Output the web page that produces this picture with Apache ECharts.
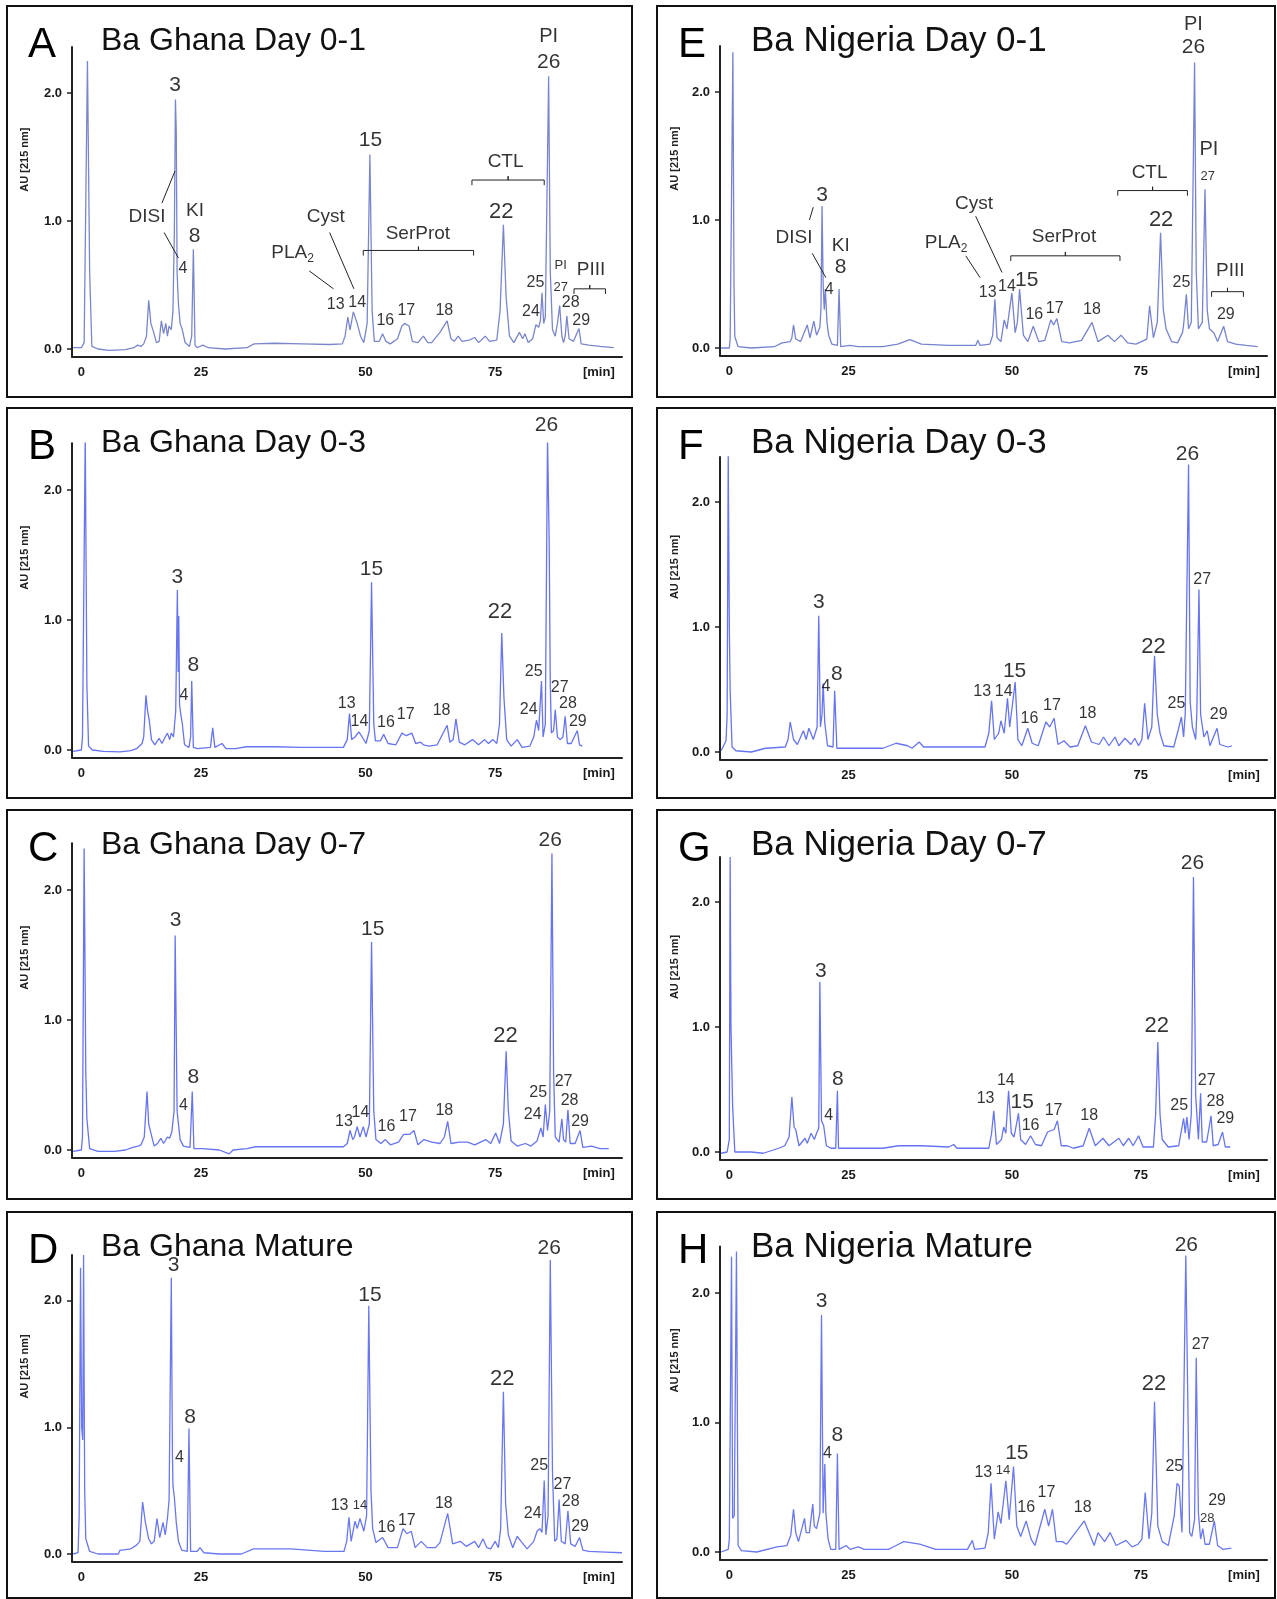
<!DOCTYPE html>
<html>
<head>
<meta charset="utf-8">
<title>Ba venom RP-HPLC profiles</title>
<script src="https://cdn.jsdelivr.net/npm/echarts@6/dist/echarts.min.js"></script>
<style>
html, body { margin: 0; padding: 0; background: #fff; }
#chart { width: 1277px; height: 1599px; }
</style>
</head>
<body>
<div id="chart"></div>
<script>
// tick labels of the time axis, at the places where they are drawn (axis units)
const xTickPos = [0, 21.7, 51.5, 75, 93.8]
const xTickText = ['0', '25', '50', '75', '[min]']
const yTicks = [0, 1, 2]

const letters = ['A', 'B', 'C', 'D', 'E', 'F', 'G', 'H']
const titles = [
  'Ba Ghana Day 0-1', 'Ba Ghana Day 0-3', 'Ba Ghana Day 0-7', 'Ba Ghana Mature',
  'Ba Nigeria Day 0-1', 'Ba Nigeria Day 0-3', 'Ba Nigeria Day 0-7', 'Ba Nigeria Mature'
]

// chromatograms: [time, AU 215 nm]
const traceA = [[-1.5,0.01],[0,0.01],[0.5,0.05],[1.1,2.25],[1.5,0.6],[1.9,0.02],[3,0.0],[5,-0.01],[8,-0.005],[9.5,0.01],[10.2,0.03],[10.8,0.02],[11.3,0.04],[11.8,0.1],[12.2,0.38],[12.6,0.2],[13.1,0.13],[13.6,0.05],[14.1,0.06],[14.5,0.22],[14.9,0.12],[15.3,0.2],[15.6,0.1],[15.9,0.18],[16.3,0.15],[16.6,0.3],[16.85,0.9],[17.05,1.95],[17.2,1.7],[17.35,0.6],[17.6,0.35],[17.9,0.2],[18.3,0.15],[18.8,0.05],[19.6,0.02],[20.0,0.1],[20.3,0.78],[20.6,0.03],[21,0.01],[22,0.03],[23,0.01],[26,0.0],[30,0.01],[31.3,0.04],[35,0.045],[40,0.04],[45,0.035],[47.3,0.04],[47.8,0.1],[48.3,0.25],[48.7,0.15],[49.3,0.29],[50.0,0.2],[50.6,0.1],[51.2,0.05],[51.8,0.2],[52.3,1.52],[52.7,0.3],[53.1,0.06],[54,0.06],[54.6,0.12],[55.2,0.06],[56,0.04],[57.3,0.08],[58.1,0.18],[58.6,0.2],[59.4,0.18],[60,0.06],[61,0.05],[62,0.1],[62.8,0.05],[63.5,0.05],[65,0.13],[66.3,0.22],[67,0.08],[67.6,0.06],[68.3,0.1],[69,0.06],[70.3,0.07],[71.3,0.09],[72,0.05],[73.2,0.1],[74,0.06],[75.3,0.07],[75.9,0.3],[76.5,0.97],[77.0,0.4],[77.6,0.1],[78.4,0.05],[79.4,0.13],[80.0,0.08],[80.4,0.12],[81.0,0.05],[81.8,0.08],[82.4,0.19],[82.9,0.17],[83.2,0.22],[83.5,0.44],[83.8,0.2],[84.1,0.25],[84.7,2.13],[85.0,0.6],[85.4,0.15],[85.9,0.1],[86.3,0.2],[86.7,0.34],[87.1,0.1],[87.4,0.05],[87.7,0.1],[88.0,0.26],[88.4,0.08],[89.2,0.06],[90.2,0.16],[90.6,0.04],[92,0.03],[94,0.02],[96.5,0.01]]
const traceB = [[-1.5,-0.01],[0,0.0],[0.2,0.1],[0.7,2.42],[1.0,0.5],[1.3,0.03],[2,0.0],[4,-0.01],[7,-0.015],[9,-0.005],[10,0.01],[11.0,0.05],[11.3,0.1],[11.7,0.42],[12.0,0.3],[12.3,0.23],[12.7,0.08],[13.3,0.04],[14.1,0.09],[14.6,0.05],[15.2,0.1],[15.6,0.13],[16.0,0.08],[16.3,0.13],[16.7,0.1],[17.1,0.3],[17.4,1.23],[17.55,0.6],[17.65,1.03],[17.8,0.35],[18.0,0.28],[18.3,0.2],[18.7,0.04],[19.5,0.02],[19.8,0.1],[20.0,0.53],[20.3,0.02],[21,0.01],[23.4,0.02],[23.8,0.17],[24.2,0.02],[25.5,0.05],[26.2,0.01],[28,0.01],[29.9,0.025],[35,0.025],[40,0.02],[47.5,0.02],[48.2,0.08],[48.6,0.28],[49.0,0.08],[49.6,0.1],[50.3,0.14],[50.9,0.1],[51.6,0.05],[52.2,0.15],[52.6,1.29],[53.0,0.2],[53.3,0.07],[54.2,0.07],[54.8,0.12],[55.6,0.05],[57,0.04],[58.1,0.13],[58.9,0.11],[59.9,0.13],[60.6,0.05],[61.5,0.06],[62,0.04],[63,0.03],[64.5,0.04],[65.1,0.09],[66.3,0.19],[66.8,0.06],[67.4,0.08],[67.9,0.24],[68.5,0.06],[69.5,0.04],[70.9,0.08],[72,0.04],[73.1,0.08],[73.8,0.05],[74.6,0.08],[75.3,0.05],[75.8,0.2],[76.2,0.9],[76.6,0.4],[77.1,0.08],[77.9,0.03],[79.0,0.08],[79.9,0.02],[81.3,0.03],[82.0,0.1],[82.5,0.23],[82.9,0.15],[83.4,0.53],[83.7,0.1],[84.1,0.2],[84.5,2.4],[84.8,1.6],[85.0,0.5],[85.2,0.13],[85.6,0.15],[85.9,0.31],[86.3,0.1],[86.8,0.08],[87.3,0.1],[87.7,0.26],[88.1,0.05],[88.8,0.05],[89.9,0.15],[90.3,0.04],[90.8,0.03]]
const traceC = [[-1.5,-0.01],[0,0.0],[0.2,0.1],[0.5,2.32],[0.8,0.6],[1.0,0.24],[1.5,0.01],[3,-0.01],[6,-0.01],[8,0.0],[9.3,0.02],[10.3,0.03],[10.8,0.04],[11.4,0.1],[11.9,0.45],[12.2,0.2],[12.6,0.13],[13.2,0.03],[13.8,0.05],[14.4,0.09],[14.9,0.05],[15.6,0.1],[16.0,0.09],[16.4,0.14],[16.8,0.3],[17.0,1.65],[17.2,0.9],[17.35,0.3],[17.5,0.24],[17.9,0.08],[18.5,0.03],[19.7,0.02],[20.1,0.45],[20.4,0.01],[22,0.01],[25,0.0],[26.8,-0.03],[27.5,0.0],[30,0.01],[31.6,0.025],[40,0.025],[47.5,0.025],[48.2,0.05],[48.7,0.15],[49.2,0.08],[49.5,0.1],[50.0,0.18],[50.5,0.1],[51.1,0.18],[51.6,0.1],[52.2,0.2],[52.6,1.6],[53.0,0.3],[53.4,0.08],[54.3,0.05],[55.1,0.08],[56,0.04],[57.5,0.06],[58.4,0.12],[59.5,0.12],[60.3,0.15],[61.0,0.04],[62.1,0.08],[63.5,0.06],[65,0.05],[65.8,0.1],[66.4,0.22],[67.0,0.05],[68.5,0.06],[70,0.06],[71.3,0.04],[73.3,0.08],[74.2,0.05],[75.1,0.13],[75.8,0.05],[76.5,0.2],[77.0,0.76],[77.4,0.3],[77.9,0.07],[79,0.03],[80.5,0.05],[81.5,0.03],[82.6,0.07],[83.3,0.17],[83.7,0.1],[84.1,0.35],[84.5,0.15],[84.9,0.3],[85.3,2.28],[85.6,0.6],[85.9,0.1],[86.6,0.06],[87.1,0.24],[87.4,0.08],[87.8,0.06],[88.2,0.31],[88.6,0.05],[89.5,0.05],[90.4,0.15],[90.9,0.02],[92.5,0.03],[94,0.01],[95.6,0.01]]
const traceD = [[-1.5,0.0],[-0.6,0.01],[-0.4,0.3],[-0.15,2.26],[0.05,1.0],[0.25,0.9],[0.4,2.36],[0.6,0.5],[0.8,0.12],[1.5,0.02],[3,0.0],[5,0.0],[6.7,0.0],[7.0,0.03],[7.4,0.03],[8.9,0.04],[10.0,0.07],[10.6,0.1],[11.1,0.41],[11.6,0.25],[12.2,0.12],[12.7,0.08],[13.2,0.1],[13.7,0.28],[14.2,0.13],[14.8,0.25],[15.2,0.15],[15.6,0.28],[15.9,0.43],[16.3,2.18],[16.5,0.8],[16.6,0.54],[16.85,0.45],[17.2,0.25],[17.6,0.1],[18.2,0.03],[19.2,0.02],[19.5,0.99],[19.8,0.02],[21.0,0.02],[21.5,0.05],[22.2,0.01],[25,0.0],[29,0.0],[31.2,0.04],[38,0.04],[44,0.02],[47.6,0.02],[48.1,0.1],[48.5,0.29],[48.9,0.1],[49.6,0.26],[50.0,0.2],[50.5,0.28],[51.2,0.18],[51.7,0.3],[52.1,1.96],[52.5,0.5],[52.8,0.2],[53.4,0.09],[54.6,0.13],[55.6,0.05],[57.3,0.05],[58.3,0.2],[59.0,0.16],[59.8,0.18],[60.5,0.05],[61.6,0.1],[62.7,0.05],[64.2,0.05],[65.0,0.09],[66.4,0.32],[67.3,0.08],[68.7,0.1],[69.8,0.06],[71.3,0.1],[72.0,0.05],[72.8,0.12],[73.5,0.05],[74.2,0.04],[75.0,0.1],[75.6,0.05],[76.0,0.2],[76.5,1.28],[76.9,0.4],[77.4,0.15],[78.2,0.05],[79.0,0.14],[79.7,0.1],[80.8,0.04],[82.0,0.1],[82.6,0.18],[83.1,0.2],[83.5,0.17],[83.9,0.58],[84.2,0.15],[84.6,0.3],[85.0,2.32],[85.4,0.64],[85.8,0.1],[86.2,0.12],[86.6,0.43],[87.0,0.1],[87.7,0.08],[88.2,0.34],[88.7,0.08],[89.5,0.06],[90.3,0.13],[90.9,0.03],[92,0.02],[95,0.015],[98,0.01]]
const traceE = [[-1.5,0.0],[0,0.0],[0.15,0.07],[0.65,2.31],[0.85,0.5],[1.0,0.09],[1.6,0.01],[4,0.0],[8.2,0.01],[9.6,0.04],[11.1,0.05],[11.4,0.08],[11.7,0.18],[12.1,0.07],[13.0,0.05],[14.2,0.18],[14.7,0.08],[15.4,0.21],[15.9,0.1],[16.5,0.16],[16.7,0.3],[16.9,1.11],[17.1,0.5],[17.3,0.3],[17.5,0.46],[17.8,0.2],[18.1,0.1],[18.7,0.03],[19.7,0.02],[20.0,0.46],[20.3,0.01],[22.0,0.02],[23.5,0.01],[28,0.01],[30.7,0.03],[32.9,0.065],[35,0.03],[40,0.02],[44.9,0.02],[45.3,0.06],[45.7,0.02],[47.5,0.03],[48.0,0.1],[48.4,0.38],[48.8,0.08],[49.5,0.05],[50.1,0.22],[50.6,0.15],[51.5,0.43],[52.1,0.12],[52.5,0.2],[52.9,0.46],[53.6,0.1],[54.4,0.05],[55.4,0.17],[56.4,0.05],[57.5,0.06],[58.6,0.22],[59.1,0.18],[59.7,0.23],[60.6,0.05],[62,0.04],[64.2,0.06],[66.1,0.2],[67.2,0.05],[69.0,0.1],[70.2,0.05],[71.4,0.1],[72.6,0.04],[74.1,0.03],[76.1,0.07],[76.6,0.33],[77.3,0.08],[78.0,0.2],[78.6,0.9],[79.1,0.3],[79.6,0.15],[80.6,0.05],[81.7,0.04],[82.6,0.12],[82.8,0.18],[83.3,0.42],[83.7,0.15],[84.2,0.2],[84.8,2.23],[85.1,0.6],[85.5,0.15],[86.2,0.2],[86.7,1.24],[87.1,0.3],[87.5,0.15],[88.3,0.12],[89.0,0.05],[90.1,0.17],[90.8,0.05],[92.3,0.03],[94.2,0.02],[96.3,0.01]]
const traceF = [[-1.5,0.01],[-0.6,0.09],[-0.4,0.3],[-0.2,2.39],[0.0,1.0],[0.15,0.49],[0.5,0.04],[1.2,0.01],[4,0.0],[6.6,0.03],[10.2,0.04],[10.7,0.1],[11.1,0.24],[11.7,0.1],[12.4,0.06],[13.5,0.17],[14.0,0.1],[14.5,0.19],[15.3,0.1],[16.0,0.2],[16.3,1.09],[16.6,0.2],[16.9,0.3],[17.1,0.55],[17.4,0.23],[17.9,0.05],[18.9,0.04],[19.2,0.49],[19.6,0.03],[22,0.03],[28,0.03],[30.4,0.07],[32.5,0.05],[33.3,0.03],[34.6,0.08],[35.4,0.04],[40,0.04],[46.6,0.04],[47.3,0.15],[47.8,0.41],[48.3,0.1],[49.1,0.15],[49.5,0.25],[50.1,0.15],[50.7,0.43],[51.1,0.2],[51.4,0.2],[52.1,0.56],[52.6,0.1],[53.3,0.05],[54.4,0.19],[55.2,0.07],[56.3,0.05],[57.7,0.24],[58.4,0.2],[59.2,0.27],[59.9,0.06],[61.0,0.09],[62.1,0.04],[63.5,0.05],[64.9,0.21],[66.0,0.08],[67.4,0.06],[68.2,0.12],[69.2,0.05],[70.3,0.12],[71.0,0.05],[72.1,0.11],[73.2,0.06],[73.9,0.11],[74.6,0.05],[75.2,0.1],[75.7,0.39],[76.3,0.1],[77.0,0.2],[77.5,0.77],[78.0,0.3],[78.5,0.15],[79.2,0.05],[81.0,0.04],[81.9,0.19],[82.4,0.28],[82.8,0.12],[83.1,0.31],[83.7,2.3],[84.0,0.4],[84.4,0.2],[85.0,0.1],[85.2,0.3],[85.6,1.3],[85.9,0.3],[86.5,0.12],[87.1,0.17],[87.6,0.05],[88.9,0.19],[89.4,0.06],[90.9,0.04],[91.6,0.05]]
const traceG = [[-1.5,-0.01],[-0.4,0.0],[0,0.1],[0.15,2.36],[0.3,1.0],[0.6,0.37],[1.0,0.0],[4,0.0],[6.2,-0.01],[9.0,0.03],[10.1,0.05],[10.9,0.12],[11.4,0.44],[11.8,0.2],[12.1,0.18],[12.7,0.05],[13.8,0.11],[14.2,0.07],[14.9,0.15],[15.5,0.1],[15.9,0.15],[16.3,0.19],[16.5,1.36],[16.8,0.25],[17.2,0.21],[17.7,0.05],[18.5,0.03],[19.4,0.03],[19.7,0.49],[19.9,0.03],[22,0.03],[28,0.03],[30.8,0.05],[35,0.05],[40,0.04],[40.9,0.06],[41.5,0.03],[47.3,0.03],[47.8,0.15],[48.2,0.33],[48.7,0.06],[49.6,0.1],[50.0,0.2],[50.4,0.15],[50.9,0.49],[51.4,0.15],[51.9,0.12],[52.7,0.31],[53.1,0.1],[54.0,0.06],[54.9,0.13],[55.8,0.06],[56.9,0.05],[58.0,0.16],[59.2,0.18],[59.8,0.25],[60.5,0.05],[61.6,0.05],[62.7,0.03],[64.5,0.05],[65.6,0.19],[66.7,0.05],[68.1,0.11],[69.2,0.05],[71.0,0.11],[71.8,0.05],[72.8,0.11],[73.6,0.05],[74.6,0.13],[75.4,0.04],[77.3,0.04],[77.7,0.3],[78.1,0.88],[78.5,0.3],[78.9,0.1],[80.0,0.04],[81.9,0.05],[82.8,0.27],[83.1,0.15],[83.4,0.28],[83.8,0.1],[84.2,0.3],[84.6,2.2],[85.0,0.45],[85.5,0.1],[85.9,0.47],[86.2,0.08],[87.0,0.08],[87.8,0.29],[88.2,0.05],[89.1,0.06],[89.9,0.16],[90.4,0.04],[91.3,0.04]]
const traceH = [[-1.5,0.0],[-0.2,0.02],[0.0,0.1],[0.4,2.28],[0.6,0.26],[0.9,0.28],[1.3,2.32],[1.6,0.05],[2.2,0.01],[5,0.0],[8.7,0.04],[10.5,0.05],[11.2,0.13],[11.7,0.33],[12.1,0.15],[12.6,0.08],[13.7,0.26],[14.0,0.15],[14.6,0.15],[15.2,0.37],[15.5,0.2],[15.9,0.18],[16.2,0.18],[16.5,0.3],[16.8,1.83],[17.1,0.3],[17.4,0.68],[17.6,0.3],[18.0,0.1],[18.5,0.02],[19.4,0.02],[19.7,0.76],[20.0,0.02],[21.3,0.05],[22.0,0.02],[23.5,0.04],[24.6,0.02],[29,0.02],[30.4,0.05],[31.8,0.08],[34.7,0.06],[37.6,0.02],[43.4,0.02],[44.3,0.09],[44.7,0.02],[46.6,0.03],[47.2,0.15],[47.7,0.53],[48.3,0.1],[49.0,0.31],[49.5,0.22],[50.4,0.55],[51.0,0.25],[51.3,0.26],[51.8,0.66],[52.4,0.2],[53.1,0.12],[54.1,0.24],[55.0,0.1],[55.7,0.05],[57.5,0.33],[58.2,0.2],[58.9,0.33],[59.6,0.08],[60.7,0.08],[61.5,0.06],[64.7,0.24],[66.5,0.05],[67.2,0.15],[68.4,0.08],[69.4,0.15],[70.5,0.05],[72.3,0.09],[73.4,0.04],[74.5,0.06],[75.2,0.1],[75.8,0.46],[76.5,0.1],[77.0,0.3],[77.5,1.16],[78.1,0.2],[78.9,0.08],[80.0,0.05],[81.1,0.28],[81.6,0.53],[82.0,0.51],[82.5,0.15],[83.2,2.29],[83.9,0.15],[84.3,0.12],[84.8,0.25],[85.1,1.5],[85.5,0.3],[85.9,0.1],[86.3,0.18],[86.7,0.06],[87.5,0.06],[88.4,0.24],[89.0,0.05],[90.0,0.02],[91.5,0.03]]

// peak / toxin-family labels: [time, AU, text]
const labelsA = [[17.0,2.06,'3'],[11.9,1.03,'DISI'],[20.6,1.08,'KI'],[20.5,0.88,'8'],[18.4,0.63,'4'],[38.3,0.75,'PLA{s|2}'],[44.3,1.03,'Cyst'],[46.1,0.35,'13'],[50.0,0.36,'14'],[52.4,1.63,'15'],[61,0.9,'SerProt'],[55.1,0.22,'16'],[58.9,0.3,'17'],[65.8,0.3,'18'],[76.9,1.46,'CTL'],[76.1,1.07,'22'],[84.7,2.44,'PI'],[84.7,2.24,'26'],[82.3,0.52,'25'],[81.5,0.29,'24'],[86.9,0.65,'PI'],[92.4,0.62,'PIII'],[86.9,0.48,'27'],[88.7,0.36,'28'],[90.6,0.22,'29']]
const labelsB = [[17.4,1.33,'3'],[18.6,0.42,'4'],[20.3,0.65,'8'],[48.1,0.36,'13'],[50.4,0.22,'14'],[52.6,1.39,'15'],[55.2,0.21,'16'],[58.8,0.27,'17'],[65.3,0.3,'18'],[75.9,1.06,'22'],[81.1,0.31,'24'],[82.0,0.6,'25'],[84.3,2.5,'26'],[86.7,0.48,'27'],[88.2,0.36,'28'],[90.0,0.22,'29']]
const labelsC = [[17.1,1.77,'3'],[18.5,0.34,'4'],[20.3,0.56,'8'],[47.6,0.22,'13'],[50.6,0.29,'14'],[52.8,1.7,'15'],[55.3,0.18,'16'],[59.2,0.26,'17'],[65.8,0.3,'18'],[76.9,0.88,'22'],[81.8,0.27,'24'],[82.8,0.44,'25'],[85.0,2.38,'26'],[87.4,0.53,'27'],[88.5,0.38,'28'],[90.4,0.22,'29']]
const labelsD = [[16.7,2.28,'3'],[17.8,0.76,'4'],[19.7,1.08,'8'],[46.8,0.38,'13'],[50.5,0.38,'14'],[52.3,2.04,'15'],[55.3,0.21,'16'],[59.0,0.26,'17'],[65.7,0.4,'18'],[76.3,1.38,'22'],[81.8,0.32,'24'],[83.0,0.7,'25'],[84.8,2.41,'26'],[87.2,0.55,'27'],[88.7,0.41,'28'],[90.4,0.22,'29']]
const labelsE = [[16.9,1.19,'3'],[11.8,0.86,'DISI'],[20.3,0.8,'KI'],[20.3,0.63,'8'],[18.2,0.46,'4'],[39.5,0.82,'PLA{s|2}'],[44.6,1.13,'Cyst'],[47.1,0.43,'13'],[50.6,0.48,'14'],[54.2,0.53,'15'],[61.0,0.87,'SerProt'],[55.6,0.26,'16'],[59.3,0.31,'17'],[66.1,0.3,'18'],[76.6,1.37,'CTL'],[78.7,1.0,'22'],[84.6,2.53,'PI'],[84.6,2.35,'26'],[87.4,1.55,'PI'],[87.2,1.34,'27'],[82.4,0.51,'25'],[91.3,0.6,'PIII'],[90.5,0.26,'29']]
const labelsF = [[16.3,1.2,'3'],[17.6,0.52,'4'],[19.6,0.62,'8'],[46.1,0.48,'13'],[50.0,0.48,'14'],[52.0,0.65,'15'],[54.7,0.27,'16'],[58.8,0.37,'17'],[65.3,0.31,'18'],[77.3,0.84,'22'],[81.5,0.39,'25'],[83.5,2.38,'26'],[86.2,1.38,'27'],[89.2,0.3,'29']]
const labelsG = [[16.7,1.45,'3'],[18.1,0.29,'4'],[19.8,0.58,'8'],[46.7,0.43,'13'],[50.4,0.57,'14'],[53.4,0.4,'15'],[54.9,0.21,'16'],[59.1,0.33,'17'],[65.6,0.29,'18'],[77.9,1.01,'22'],[82.0,0.37,'25'],[84.4,2.31,'26'],[87.0,0.57,'27'],[88.6,0.4,'28'],[90.4,0.27,'29']]
const labelsH = [[16.8,1.94,'3'],[17.9,0.76,'4'],[19.7,0.9,'8'],[46.3,0.61,'13'],[49.9,0.63,'14'],[52.4,0.76,'15'],[54.1,0.34,'16'],[57.8,0.46,'17'],[64.4,0.34,'18'],[77.4,1.3,'22'],[81.1,0.66,'25'],[83.3,2.37,'26'],[85.9,1.6,'27'],[87.1,0.26,'28'],[88.9,0.4,'29']]

// leader lines [[t1, au1], [t2, au2]] and brackets [t1, t2, au]
const leadersA = [[[14.6,1.14],[16.97,1.39]],[[15,0.91],[17.6,0.71]],[[41.3,0.61],[45.7,0.47]],[[45,0.91],[49.4,0.47]]]
const bracketsA = [[51.1,71.1,0.77],[70.8,83.9,1.32],[89.3,95,0.47]]
const leadersE = [[[14.6,1.0],[15.3,1.1]],[[15.1,0.74],[17.6,0.55]],[[43.1,0.72],[45.7,0.55]],[[44.9,1.03],[49.7,0.59]]]
const bracketsE = [[51.3,71.2,0.72],[70.8,83.5,1.23],[87.9,93.7,0.44]]

const traces = [traceA, traceB, traceC, traceD, traceE, traceF, traceG, traceH]
const labels = [labelsA, labelsB, labelsC, labelsD, labelsE, labelsF, labelsG, labelsH]
const leaders = [leadersA, [], [], [], leadersE, [], [], []]
const brackets = [bracketsA, [], [], [], bracketsE, [], [], []]
// labels drawn in a smaller type (index into the panel's label list)
const smallLabels = [[20, 22], [], [], [4], [19], [], [], [4, 13]]

// layout
const FONT = '"Liberation Sans", Arial, sans-serif'
const zeroY = [349, 750, 1150, 1554, 348, 752, 1152, 1552]
const pxPerAU = [128, 130, 130, 126.7, 128, 125, 125, 129.5]
const boxTop = [6, 408, 810, 1212]
const boxBottom = [397, 798, 1199, 1598]
const colBoxX = [7, 657], colBoxW = [625, 618]
const colAxisX = [72, 720], colGridW = [550, 547]
const colTitleSize = [32, 35]
const lineColors = ['#7a86cc', '#6674f0', '#6674f0', '#6977f0', '#7683d0', '#6674f0', '#6674f0', '#6977f0']
const XMIN = -1.7, XMAX = 98, YMIN = -0.06, YMAX = 2.36

const bigSize = { '3': 21, '8': 21, '15': 21, '22': 22, '26': 21, 'PI': 20 }
const groupNames = ['DISI', 'KI', 'Cyst', 'SerProt', 'CTL', 'PIII', 'PLA{s|2}']
const sizeFor = (text, small) => {
  if (small) return 13
  if (bigSize[text]) return bigSize[text]
  if (groupNames.includes(text)) return 19
  return 16
}

const bracketPath = b => {
  const m = (b[0] + b[1]) / 2
  return [[b[0], b[2] - 0.04], [b[0], b[2]], [m, b[2]], [m, b[2] + 0.03], [m, b[2]], [b[1], b[2]], [b[1], b[2] - 0.04]]
}

const grid = [], xAxis = [], yAxis = [], series = [], graphic = []

traces.forEach((trace, i) => {
  const col = i < 4 ? 0 : 1
  const row = i % 4
  const s = pxPerAU[i]
  grid.push({
    left: colAxisX[col],
    top: zeroY[i] - YMAX * s,
    width: colGridW[col],
    height: (YMAX - YMIN) * s
  })
  xAxis.push({
    gridIndex: i,
    type: 'value',
    min: XMIN,
    max: XMAX,
    axisLine: { onZero: false, lineStyle: { color: '#222', width: 2 } },
    axisTick: { show: false },
    splitLine: { show: false },
    axisLabel: {
      customValues: xTickPos,
      formatter: v => xTickText[xTickPos.findIndex(t => Math.abs(t - v) < 1e-6)] || '',
      fontFamily: FONT,
      fontWeight: 'bold',
      fontSize: 13,
      color: '#1a1a1a',
      margin: 9
    }
  })
  yAxis.push({
    gridIndex: i,
    type: 'value',
    min: YMIN,
    max: YMAX,
    axisLine: { show: true, onZero: false, lineStyle: { color: '#222', width: 2 } },
    axisTick: { show: true, customValues: yTicks, length: 5, lineStyle: { color: '#222', width: 1.5 } },
    splitLine: { show: false },
    axisLabel: {
      customValues: yTicks,
      formatter: v => v.toFixed(1),
      fontFamily: FONT,
      fontWeight: 'bold',
      fontSize: 13,
      color: '#1a1a1a',
      margin: 10
    }
  })

  series.push({
    type: 'line',
    xAxisIndex: i,
    yAxisIndex: i,
    data: trace,
    showSymbol: false,
    symbol: 'none',
    lineStyle: { color: lineColors[i], width: 1.3 },
    animation: false,
    silent: true,
    z: 2
  })

  series.push({
    type: 'scatter',
    xAxisIndex: i,
    yAxisIndex: i,
    clip: false,
    symbolSize: 1,
    itemStyle: { color: 'rgba(0,0,0,0)' },
    silent: true,
    animation: false,
    z: 5,
    data: labels[i].map((l, k) => ({
      value: [l[0], l[1]],
      name: l[2],
      label: { fontSize: sizeFor(l[2], smallLabels[i].includes(k)) }
    })),
    label: {
      show: true,
      position: 'inside',
      formatter: p => p.name,
      color: '#000',
      fontFamily: FONT,
      rich: { s: { fontSize: 12, fontFamily: FONT, color: '#000', padding: [12, 0, 0, 0] } }
    }
  })

  const paths = leaders[i].concat(brackets[i].map(bracketPath))
  if (paths.length) {
    series.push({
      type: 'lines',
      coordinateSystem: 'cartesian2d',
      xAxisIndex: i,
      yAxisIndex: i,
      polyline: true,
      silent: true,
      animation: false,
      z: 4,
      lineStyle: { color: '#222', width: 1, opacity: 1 },
      data: paths.map(c => ({ coords: c }))
    })
  }

  // panel frame, letter, title, axis name
  const bx = colBoxX[col]
  graphic.push({
    type: 'rect',
    shape: { x: bx, y: boxTop[row], width: colBoxW[col], height: boxBottom[row] - boxTop[row] },
    style: { fill: 'none', stroke: '#111', lineWidth: 2 },
    silent: true
  })
  graphic.push({
    type: 'text',
    x: bx + 21,
    y: boxTop[row] + 39,
    style: { text: letters[i], font: '42px ' + FONT, fill: '#000', textAlign: 'left', textVerticalAlign: 'middle' },
    silent: true
  })
  graphic.push({
    type: 'text',
    x: bx + 94,
    y: boxTop[row] + 35,
    style: { text: titles[i], font: colTitleSize[col] + 'px ' + FONT, fill: '#111', textAlign: 'left', textVerticalAlign: 'middle' },
    silent: true
  })
  graphic.push({
    type: 'text',
    x: bx + 18,
    y: zeroY[i] - 1.48 * s,
    rotation: Math.PI / 2,
    style: { text: 'AU [215 nm]', font: 'bold 11px ' + FONT, fill: '#222', textAlign: 'center', textVerticalAlign: 'middle' },
    silent: true
  })
})

const chart = echarts.init(document.getElementById('chart'), null, { renderer: 'canvas' })
chart.setOption({
  backgroundColor: '#fff',
  animation: false,
  grid,
  xAxis,
  yAxis,
  series,
  graphic
})
window.addEventListener('resize', () => chart.resize())
</script>
</body>
</html>
